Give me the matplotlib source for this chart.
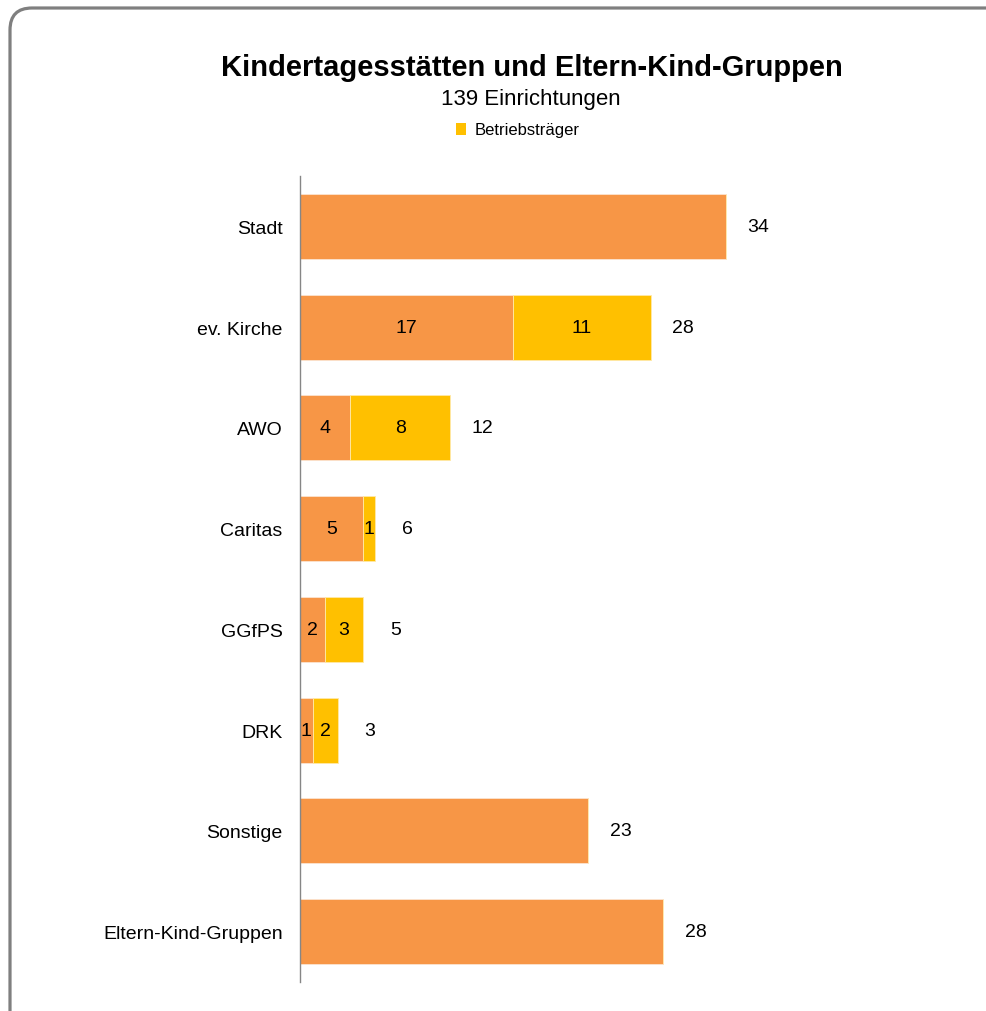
import matplotlib.pyplot as plt
from matplotlib.patches import FancyBboxPatch, Patch

plt.rcParams['font.family'] = ['Liberation Sans', 'DejaVu Sans']

categories = ['Stadt', 'ev. Kirche', 'AWO', 'Caritas', 'GGfPS', 'DRK',
              'Sonstige', 'Eltern-Kind-Gruppen']
eigen = [34, 17, 4, 5, 2, 1, 23, 29]          # orange part (bar length)
betrieb = [0, 11, 8, 1, 3, 2, 0, 0]           # Betriebsträger (yellow)
inner_orange = ['', '17', '4', '5', '2', '1', '', '']
inner_yellow = ['', '11', '8', '1', '3', '2', '', '']
totals = ['34', '28', '12', '6', '5', '3', '23', '28']

orange = '#F79646'
yellow = '#FFC000'

fig = plt.figure(figsize=(9.87, 10.12), dpi=100)

# rounded frame, running off the right and bottom edge
frame = FancyBboxPatch((10, -40), 1060, 1043, boxstyle='round,pad=0,rounding_size=22',
                       transform=None, facecolor='none', edgecolor='#7F7F7F',
                       linewidth=2.3)
fig.add_artist(frame)

ax = fig.add_axes([300 / 987, 1 - 983 / 1012, 501 / 987, 806 / 1012])
y = list(range(len(categories)))
ax.barh(y, eigen, height=0.645, color=orange, edgecolor='#FCE4D0', linewidth=0.6)
ax.barh(y, betrieb, left=eigen, height=0.645, color=yellow, edgecolor='#FFE9A8',
        linewidth=0.6)

for i in y:
    if inner_orange[i]:
        ax.text(eigen[i] / 2, i, inner_orange[i], ha='center', va='center', fontsize=14)
    if inner_yellow[i]:
        ax.text(eigen[i] + betrieb[i] / 2, i, inner_yellow[i], ha='center',
                va='center', fontsize=14)
    ax.text(eigen[i] + betrieb[i] + 2.6, i, totals[i], ha='center', va='center',
            fontsize=14)

ax.set_xlim(0, 40)
ax.set_ylim(len(categories) - 0.5, -0.5)
ax.set_yticks(y)
ax.set_yticklabels(categories, fontsize=14)
ax.tick_params(axis='y', length=0, pad=12.5)
ax.set_xticks([])
for s in ['top', 'right', 'bottom']:
    ax.spines[s].set_visible(False)
ax.spines['left'].set_color('#868686')
ax.spines['left'].set_linewidth(1.0)

fig.text(532 / 987, 1 - 68 / 1012, 'Kindertagesstätten und Eltern-Kind-Gruppen',
         ha='center', va='center', fontsize=21, fontweight='bold')
fig.text(531 / 987, 1 - 100 / 1012, '139 Einrichtungen', ha='center', va='center',
         fontsize=16)
fig.legend(handles=[Patch(facecolor=yellow, label='Betriebsträger')],
           loc='center', bbox_to_anchor=(518 / 987, 1 - 131 / 1012), frameon=False,
           fontsize=12, handlelength=0.6, handleheight=0.7, handletextpad=0.55)

fig.savefig('out.png', dpi=100)
